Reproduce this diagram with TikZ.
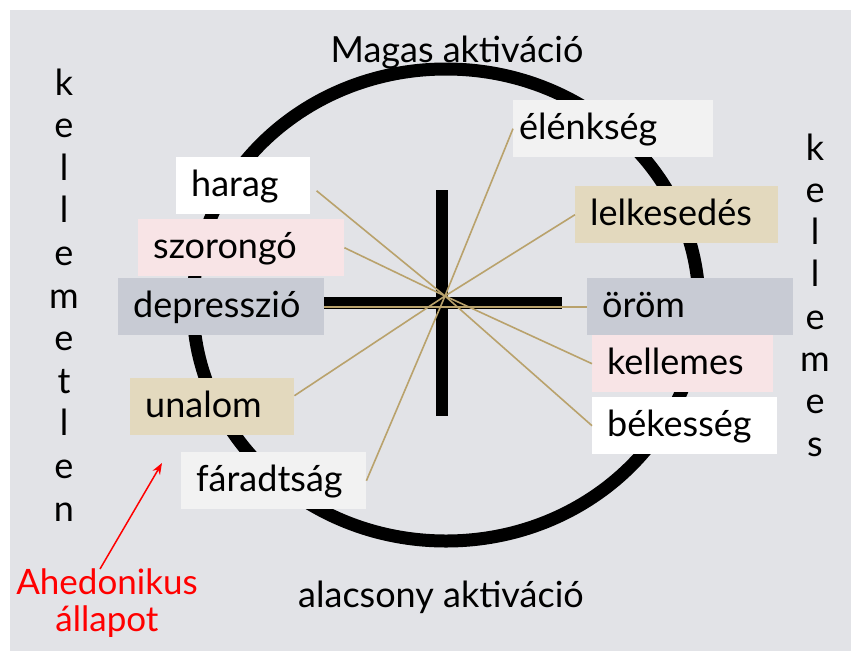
\documentclass[tikz,border=0pt]{standalone}
\usepackage{fontspec}
\setmainfont{Lato}
\usetikzlibrary{arrows.meta}

\definecolor{bgGray}{HTML}{E2E3E7}
\definecolor{boxLight}{HTML}{F2F2F2}
\definecolor{boxBeige}{HTML}{E3D9BE}
\definecolor{boxSlate}{HTML}{C8CBD4}
\definecolor{boxPink}{HTML}{F8E4E6}
\definecolor{spokeGold}{HTML}{B9A26C}

\begin{document}
\begin{tikzpicture}[x=1pt, y=-1pt, every node/.style={font=\fontsize{36}{40}\selectfont},
	emo/.style={anchor=north west, inner xsep=15pt, inner ysep=0pt, minimum height=57pt, text width=#1, align=left, text height=26pt, text depth=5pt},
	spokeline/.style={spokeGold, line width=1.6pt}, >={Stealth[length=4mm, width=3mm]}]
	\useasboundingbox (0,0) rectangle (851,651);
	\fill[white] (0,0) rectangle (851,651);
	\fill[bgGray] (10,10) rectangle (851,651);
	% ring and cross
	\draw[line width=13pt] (446,305) ellipse [x radius=253pt, y radius=236pt];
	\draw[line width=12pt] (442,190) -- (442,416);
	\draw[line width=12pt] (322,303) -- (562,303);
	\coordinate (hub) at (445,296);
	% right side
	\node[emo=188pt, inner xsep=6pt, fill=boxLight] (elenkseg) at (513,100) {élénkség};
	\node[emo=173pt, fill=boxBeige] (lelkesedes) at (575,186) {lelkesedés};
	\node[emo=176pt, fill=boxSlate] (orom) at (587,278) {öröm};
	\node[emo=151pt, fill=boxPink] (kellemes) at (592,335) {kellemes};
	\node[emo=155pt, fill=white] (bekesseg) at (592,397) {békesség};
	% left side
	\node[emo=104pt, fill=white] (harag) at (176,157) {harag};
	\node[emo=176pt, fill=boxPink] (szorongo) at (138,219) {szorongó};
	\node[emo=176pt, fill=boxSlate] (depresszio) at (118,278) {depresszió};
	\node[emo=134pt, fill=boxBeige] (unalom) at (130,378) {unalom};
	\node[emo=155pt, fill=boxLight] (faradtsag) at (181,452) {fáradtság};
	% spokes
	\draw[spokeline, shorten >=8pt] (hub) -- (harag.east);
	\draw[spokeline] (hub) -- (szorongo.east);
	\draw[spokeline] (depresszio.east) -- (orom.west);
	\draw[spokeline] (hub) -- ([yshift=11pt]unalom.east);
	\draw[spokeline] (hub) -- (faradtsag.east);
	\draw[spokeline] (hub) -- (elenkseg.west);
	\draw[spokeline] (hub) -- (lelkesedes.west);
	\draw[spokeline] (hub) -- (kellemes.west);
	\draw[spokeline] (hub) -- (bekesseg.west);
	% axis labels
	\node[anchor=base] (magas) at (457,62) {Magas aktiváció};
	\node[anchor=base] (alacsony) at (441,607) {alacsony aktiváció};
	\foreach \ch [count=\i] in {k,e,l,l,e,m,e,t,l,e,n}
		\node[anchor=base, inner sep=0pt] (bal\i) at (64,{95+42.6*(\i-1)}) {\ch};
	\foreach \ch [count=\i] in {k,e,l,l,e,m,e,s}
		\node[anchor=base, inner sep=0pt] (jobb\i) at (815,{160+42.3*(\i-1)}) {\ch};
	% ahedonic note
	\node[red, anchor=north, align=center, inner sep=0pt, font=\fontsize{35}{37}\selectfont] (ahed) at (107,569) {Ahedonikus\\állapot};
	\coordinate (ahedtip) at (162,463);
	\draw[red, line width=1.5pt, ->] ([xshift=-7pt]ahed.north) -- (ahedtip);
\end{tikzpicture}
\end{document}
